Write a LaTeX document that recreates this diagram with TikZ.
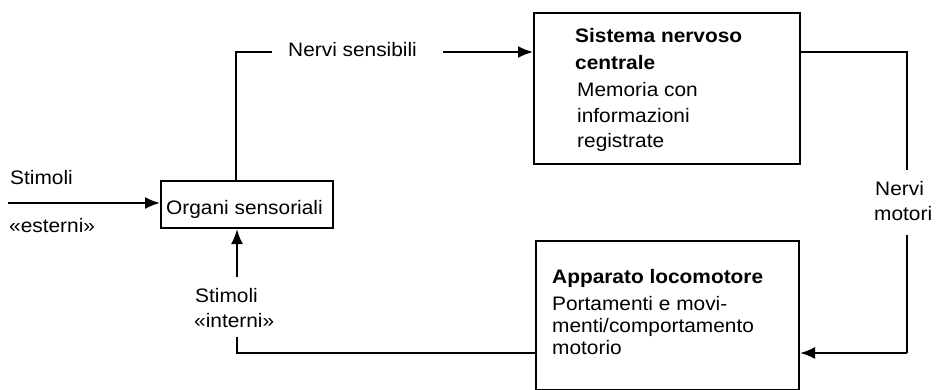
\documentclass[tikz,border=0pt]{standalone}
\usepackage{fontspec}
\usetikzlibrary{arrows.meta}
\setmainfont{Liberation Sans}[FakeStretch=1.07]
\begin{document}
\begin{tikzpicture}[x=1pt,y=-1pt,
  txt/.style={anchor=base west,inner sep=0pt,font=\fontsize{19.5}{24}\selectfont},
  btxt/.style={txt,font=\fontsize{19.5}{24}\selectfont\bfseries},
  box/.style={draw,line width=2.1pt,anchor=north west,inner sep=0pt},
  conn/.style={line width=1.9pt},
  arr/.style={conn,-{Latex[length=15pt,width=12pt]}}]
\useasboundingbox (0,0) rectangle (936,390);
% boxes
\node[box,minimum width=172pt,minimum height=47pt] (os) at (160,180) {};
\node[box,minimum width=266pt,minimum height=151pt] (snc) at (533,12) {};
\node[box,minimum width=263pt,minimum height=149pt] (ap) at (535,240) {};
% texts
\node[txt] (t1) at (166,214) {Organi sensoriali};
\node[btxt] (s1) at (575,43) {Sistema nervoso};
\node[btxt] (s2) at (575,70) {centrale};
\node[txt] (s3) at (577,97) {Memoria con};
\node[txt] (s4) at (577,123) {informazioni};
\node[txt] (s5) at (577,148) {registrate};
\node[btxt] (a1) at (552,283) {Apparato locomotore};
\node[txt] (a2) at (552,310) {Portamenti e movi-};
\node[txt] (a3) at (552,332) {menti/comportamento};
\node[txt] (a4) at (552,354) {motorio};
\node[txt] (se1) at (10,185) {Stimoli};
\node[txt] (se2) at (9,232) {«esterni»};
\node[txt] (si1) at (195,302) {Stimoli};
\node[txt] (si2) at (194,327) {«interni»};
\node[txt] (ns) at (288,57) {Nervi sensibili};
\node[txt] (nm1) at (875,195) {Nervi};
\node[txt] (nm2) at (874,220) {motori};
% connector coordinates
\coordinate (ein) at (8,203);
\coordinate (nc) at (236,52);
\coordinate (ns1) at (272,52);
\coordinate (ns2) at (443,52);
\coordinate (mc) at (907,52);
\coordinate (m1) at (907,170);
\coordinate (m2) at (907,235);
\coordinate (mb) at (907,353);
\coordinate (ib) at (237,337);
\coordinate (iu) at (237,277);
% connectors
\draw[arr] (ein) -- (ein -| os.west);
\draw[conn] (nc |- os.north) -- (nc) -- (ns1);
\draw[arr] (ns2) -- (ns2 -| snc.west);
\draw[conn] (mc -| snc.east) -- (mc) -- (m1);
\draw[conn] (m2) -- (mb);
\draw[arr] (mb) -- (mb -| ap.east);
\draw[conn] (ib) |- (mb -| ap.west);
\draw[arr] (iu) -- (iu |- os.south);
\end{tikzpicture}
\end{document}
